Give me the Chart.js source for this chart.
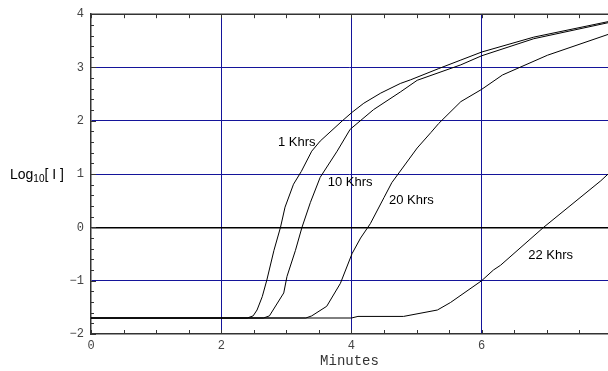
<!DOCTYPE html>
<html>
<head>
<meta charset="utf-8">
<script src="https://cdn.jsdelivr.net/npm/chart.js@4/dist/chart.umd.min.js"></script>
<style>
  html, body { margin: 0; padding: 0; background: #fff; }
  #wrap { width: 608px; height: 371px; }
</style>
</head>
<body>
<div id="wrap"><canvas id="chart" width="608" height="371"></canvas></div>
<script>
// data (minutes, log10 of current)
const oneKhrsX = [0, 2.40, 2.49, 2.55, 2.63, 2.70, 2.81, 2.91, 2.98, 3.11, 3.23, 3.39, 3.52, 3.86, 4.01, 4.19, 4.45, 4.75, 4.91, 5.34, 5.68, 6.00, 6.80, 7.94];
const oneKhrsY = [-1.7, -1.7, -1.66, -1.55, -1.30, -0.99, -0.43, 0, 0.38, 0.81, 1.05, 1.43, 1.62, 2.00, 2.16, 2.33, 2.52, 2.70, 2.77, 2.98, 3.14, 3.29, 3.57, 3.86];

const tenKhrsX = [0, 2.65, 2.74, 2.96, 3.01, 3.14, 3.24, 3.37, 3.52, 3.78, 3.98, 4.34, 4.75, 5.01, 5.68, 6.00, 6.80, 7.94];
const tenKhrsY = [-1.7, -1.7, -1.66, -1.23, -0.92, -0.43, 0, 0.47, 0.94, 1.43, 1.84, 2.21, 2.54, 2.76, 3.05, 3.22, 3.54, 3.84];

const twentyKhrsX = [0, 3.30, 3.39, 3.62, 3.83, 4.01, 4.14, 4.29, 4.50, 4.62, 5.01, 5.22, 5.34, 5.68, 6.00, 6.32, 7.01, 7.94];
const twentyKhrsY = [-1.7, -1.7, -1.66, -1.48, -1.05, -0.49, -0.20, 0.07, 0.56, 0.84, 1.49, 1.78, 1.95, 2.36, 2.59, 2.86, 3.23, 3.62];

const twentyTwoKhrsX = [0, 4.00, 4.10, 4.80, 5.32, 5.52, 6.00, 6.18, 6.29, 6.95, 7.83, 7.94];
const twentyTwoKhrsY = [-1.7, -1.7, -1.67, -1.67, -1.55, -1.41, -1.00, -0.80, -0.71, 0, 0.875, 1.0];

const seriesNames = ['1 Khrs', '10 Khrs', '20 Khrs', '22 Khrs'];
// where each curve's name sits, in data units
const labelX = [3.16, 3.98, 4.92, 7.06];
const labelY = [1.60, 0.84, 0.50, -0.52];

const xTicks = [0, 2, 4, 6];
const yTicks = [-2, -1, 0, 1, 2, 3, 4];

function pts(xs, ys) {
  return xs.map((x, i) => ({ x: x, y: ys[i] }));
}

const NAVY = '#14149a';
const FRAME = '#333333';

const frame = {
  id: 'frame',
  afterDatasetsDraw(chart) {
    const ctx = chart.ctx;
    const a = chart.chartArea;
    const xs = chart.scales.x;
    const ys = chart.scales.y;
    ctx.save();
    ctx.strokeStyle = FRAME;
    ctx.lineWidth = 1.5;
    ctx.beginPath();
    ctx.moveTo(a.left, a.top);
    ctx.lineTo(a.right, a.top);
    ctx.stroke();

    ctx.lineWidth = 1;
    ctx.beginPath();
    for (let v = 0; v <= xs.max + 0.001; v += 0.5) {
      const px = Math.round(xs.getPixelForValue(v)) + 0.5;
      ctx.moveTo(px, a.bottom);
      ctx.lineTo(px, a.bottom - 4);
      ctx.moveTo(px, a.top);
      ctx.lineTo(px, a.top + 4);
    }
    for (let i = 0; i <= 30; i++) {
      const v = -2 + i * 0.2;
      const py = Math.round(ys.getPixelForValue(v)) + 0.5;
      const len = (i % 5 === 0) ? 5 : 3;
      ctx.moveTo(a.left, py);
      ctx.lineTo(a.left + len, py);
    }
    ctx.stroke();

    ctx.fillStyle = '#000';
    ctx.font = '13px "Liberation Sans", Arial, sans-serif';
    ctx.textAlign = 'center';
    ctx.textBaseline = 'middle';
    seriesNames.forEach((name, i) => {
      ctx.fillText(name, xs.getPixelForValue(labelX[i]), ys.getPixelForValue(labelY[i]));
    });

    // y axis name Log10[ I ]
    const yMid = ys.getPixelForValue(1);
    ctx.textAlign = 'left';
    ctx.textBaseline = 'alphabetic';
    let x = 10;
    ctx.font = '14px "Liberation Sans", Arial, sans-serif';
    ctx.fillText('Log', x, yMid + 5);
    x += ctx.measureText('Log').width;
    ctx.font = '10px "Liberation Sans", Arial, sans-serif';
    ctx.fillText('10', x, yMid + 8);
    x += ctx.measureText('10').width;
    ctx.font = '14px "Liberation Sans", Arial, sans-serif';
    ctx.fillText('[ I ]', x, yMid + 5);
    ctx.restore();
  }
};

const line = (data) => ({
  data: data,
  borderColor: '#000',
  borderWidth: 1,
  pointRadius: 0,
  tension: 0,
  fill: false
});

new Chart(document.getElementById('chart'), {
  type: 'line',
  data: {
    datasets: [
      line(pts(oneKhrsX, oneKhrsY)),
      line(pts(tenKhrsX, tenKhrsY)),
      line(pts(twentyKhrsX, twentyKhrsY)),
      line(pts(twentyTwoKhrsX, twentyTwoKhrsY))
    ]
  },
  options: {
    responsive: false,
    animation: false,
    layout: { padding: { top: 10, right: 0, left: 0, bottom: 0 } },
    plugins: { legend: { display: false }, tooltip: { enabled: false } },
    scales: {
      x: {
        type: 'linear',
        min: 0,
        max: 7.94,
        afterFit(s) { s.height = 37; },
        afterBuildTicks(s) { s.ticks = xTicks.map(v => ({ value: v })); },
        ticks: {
          autoSkip: false,
          maxRotation: 0,
          padding: 5,
          color: '#444',
          font: { family: '"Liberation Mono", "Courier New", monospace', size: 12 }
        },
        grid: {
          drawTicks: false,
          lineWidth: 1,
          color: (c) => (c.tick && c.tick.value > 0) ? NAVY : 'rgba(0,0,0,0)'
        },
        border: { color: FRAME, width: 1.5 },
        title: {
          display: true,
          text: 'Minutes',
          color: '#333',
          padding: { top: 0, bottom: 1 },
          font: { family: '"Liberation Mono", "Courier New", monospace', size: 14 }
        }
      },
      y: {
        type: 'linear',
        min: -2,
        max: 4,
        afterFit(s) { s.width = 91; },
        afterBuildTicks(s) { s.ticks = yTicks.map(v => ({ value: v })); },
        ticks: {
          padding: 7,
          color: '#444',
          font: { family: '"Liberation Mono", "Courier New", monospace', size: 12 },
          callback: (v) => v < 0 ? '\u2212' + Math.abs(v) : String(v)
        },
        grid: {
          drawTicks: false,
          color: (c) => {
            const v = c.tick && c.tick.value;
            if (v === 0) return '#000';
            if (v === -2 || v === 4) return 'rgba(0,0,0,0)';
            return NAVY;
          },
          lineWidth: (c) => (c.tick && c.tick.value === 0) ? 1.5 : 1
        },
        border: { color: FRAME, width: 1.5 }
      }
    }
  },
  plugins: [frame]
});
</script>
</body>
</html>
